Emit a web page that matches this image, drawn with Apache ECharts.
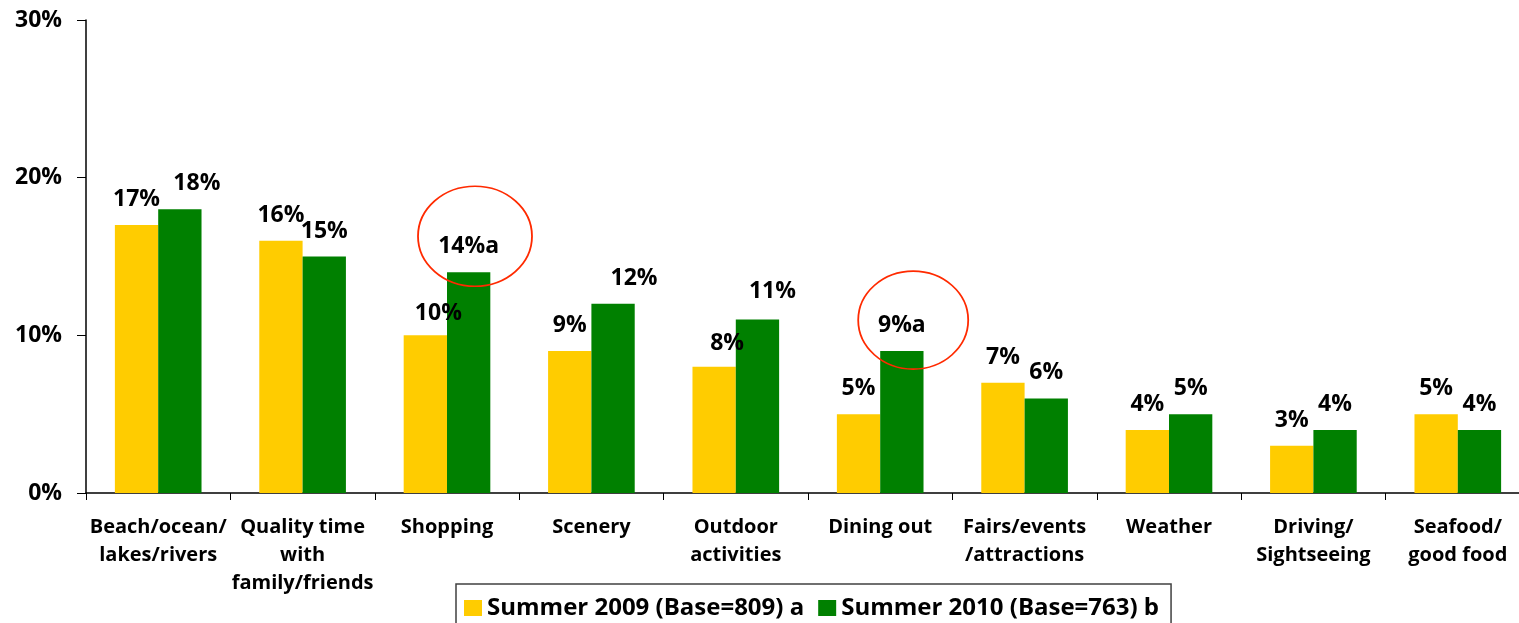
<!DOCTYPE html>
<html>
<head>
<meta charset="utf-8">
<script src="https://cdn.jsdelivr.net/npm/echarts@6/dist/echarts.min.js"></script>
<style>
  html, body { margin: 0; padding: 0; background: #fff; overflow: hidden; }
  /* the plot in the original runs a little past the right edge of the picture */
  #chart { width: 1530px; height: 623px; }
</style>
</head>
<body>
<div id="chart"></div>
<script>
// categories and values (percent)
var categories = [
  'Beach/ocean/\nlakes/rivers',
  'Quality time\nwith\nfamily/friends',
  'Shopping',
  'Scenery',
  'Outdoor\nactivities',
  'Dining out',
  'Fairs/events\n/attractions',
  'Weather',
  'Driving/\nSightseeing',
  'Seafood/\ngood food'
];
var summer2009 = [17, 16, 10, 9, 8, 5, 7, 4, 3, 5];
var summer2010 = [18, 15, 14, 12, 11, 9, 6, 5, 4, 4];
// significance letters shown after the 2010 value
var sig2010 = ['', '', 'a', '', '', 'a', '', '', '', ''];
var seriesNames = ['Summer 2009 (Base=809) a', 'Summer 2010 (Base=763) b'];
var yTicks = [0, 10, 20, 30];

// label nudges seen in the original (series index -> point index -> [dx, dy])
var nudge = {
  0: { 2: [13, 4], 4: [13, 2] },
  1: { 0: [17, 0], 3: [21, 0], 4: [15, -3] }
};

var FONT = 'Open Sans';

function buildData(vals, si) {
  return vals.map(function (v, i) {
    var item = { value: v };
    if (nudge[si] && nudge[si][i]) {
      item.label = { offset: nudge[si][i] };
    }
    return item;
  });
}

var labelStyle = {
  show: true,
  position: 'top',
  distance: 14,
  fontFamily: FONT,
  fontWeight: 'bold',
  fontSize: 23,
  color: '#000'
};

var chart = echarts.init(document.getElementById('chart'));
chart.setOption({
  animation: false,
  backgroundColor: '#fff',
  grid: { left: 86, top: 20, right: 0, bottom: 130, containLabel: false },
  legend: {
    left: 456,
    top: 584,
    orient: 'horizontal',
    data: seriesNames,
    icon: 'rect',
    itemWidth: 18,
    itemHeight: 16,
    itemGap: 14,
    padding: [12, 12, 14, 8],
    borderColor: '#404040',
    borderWidth: 1.5,
    textStyle: { fontFamily: FONT, fontWeight: 'bold', fontSize: 24, color: '#000' }
  },
  xAxis: {
    type: 'category',
    data: categories,
    axisLine: { lineStyle: { color: '#000', width: 1.5 } },
    axisTick: { show: true, length: 7, lineStyle: { color: '#000' } },
    axisLabel: {
      interval: 0,
      margin: 20,
      fontFamily: FONT,
      fontWeight: 'bold',
      fontSize: 20,
      lineHeight: 28,
      color: '#000'
    }
  },
  yAxis: {
    type: 'value',
    min: 0,
    max: 30,
    interval: 10,
    splitLine: { show: false },
    axisLine: { show: true, lineStyle: { color: '#000', width: 1.5 } },
    axisTick: { show: true, length: 9, lineStyle: { color: '#000' } },
    axisLabel: {
      margin: 24,
      fontFamily: FONT,
      fontWeight: 'bold',
      fontSize: 23,
      color: '#000',
      formatter: function (v) { return yTicks.indexOf(v) >= 0 ? v + '%' : ''; }
    }
  },
  series: [
    {
      name: seriesNames[0],
      type: 'bar',
      barGap: '0%',
      barCategoryGap: '40%',
      itemStyle: { color: '#FFCC00' },
      label: Object.assign({}, labelStyle, { formatter: '{c}%' }),
      data: buildData(summer2009, 0)
    },
    {
      name: seriesNames[1],
      type: 'bar',
      barGap: '0%',
      barCategoryGap: '40%',
      itemStyle: { color: '#008000' },
      label: Object.assign({}, labelStyle, {
        formatter: function (p) { return p.value + '%' + sig2010[p.dataIndex]; }
      }),
      data: buildData(summer2010, 1)
    }
  ]
});

// red circles around the significant 2010 values
var circled = sig2010.map(function (s, i) { return s ? i : -1; }).filter(function (i) { return i >= 0; });
var ringOffsets = { 2: { dx: 28, dy: -36, rx: 57, ry: 50 }, 5: { dx: 33, dy: -31, rx: 55, ry: 49 } };
var rings = circled.map(function (i) {
  var p = chart.convertToPixel({ xAxisIndex: 0, yAxisIndex: 0 }, [i, summer2010[i]]);
  var o = ringOffsets[i];
  return {
    type: 'circle',
    x: p[0] + o.dx,
    y: p[1] + o.dy,
    scaleX: o.rx / o.ry,
    shape: { cx: 0, cy: 0, r: o.ry },
    style: { fill: null, stroke: '#FF2A00', lineWidth: 1.6 },
    z: 100
  };
});
chart.setOption({ graphic: rings });
</script>
</body>
</html>
